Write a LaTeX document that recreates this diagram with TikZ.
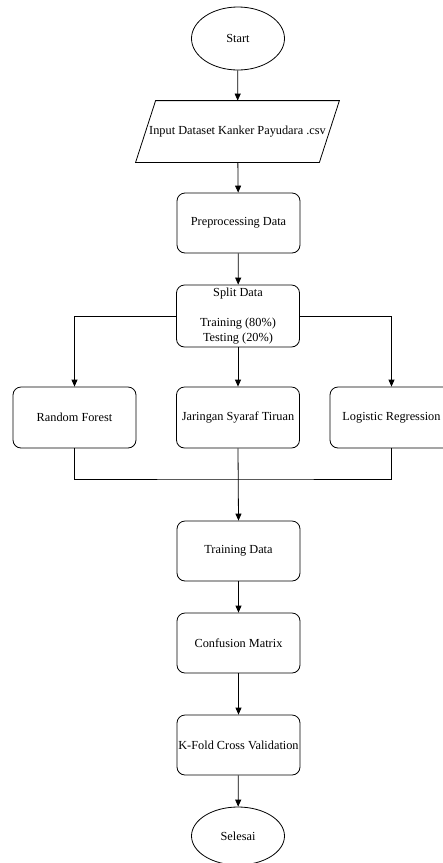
\documentclass[tikz,border=0pt]{standalone}
\usepackage{fontspec}
\setmainfont{Liberation Serif}
\usetikzlibrary{arrows.meta,shapes.geometric}

\begin{document}
\begin{tikzpicture}[x=1pt,y=-1pt,line width=0.8pt,
    font=\fontsize{12.3}{15}\selectfont,
    arr/.style={-{Triangle[length=7pt,width=6pt]}},
    proc/.style={draw,rounded corners=8pt,minimum width=123pt,minimum height=60pt,inner sep=1pt,align=center},
    term/.style={draw,ellipse,minimum width=93pt,minimum height=63pt,inner sep=0pt},
    io/.style={minimum width=183pt,minimum height=61pt,inner sep=0pt}]
          \useasboundingbox[fill=white] (0,0) rectangle (443,863);
          \node[term] (start) at (238,38.5) {Start};
          \node[io] (input) at (237.5,131.5) {Input Dataset Kanker Payudara .csv};
          \draw ([xshift=10pt]input.north west) -- ([xshift=10pt]input.north east)
            -- ([xshift=-10pt]input.south east) -- ([xshift=-10pt]input.south west) -- cycle;
          \node[proc] (prep) at (238.5,223) {Preprocessing Data};
          \node[proc,minimum height=62pt] (split) at (238,316) {Split Data\\[15pt]Training (80\%)\\Testing (20\%)};
          \node[proc,minimum height=61pt] (rf) at (74.5,417.5) {Random Forest};
          \node[proc,minimum height=61pt] (jst) at (238,417.5) {Jaringan Syaraf Tiruan};
          \node[proc,minimum height=61pt] (lr) at (391.5,417.5) {Logistic Regression};
          \coordinate (merge) at (238,479);
          \node[proc] (train) at (238.5,551) {Training Data};
          \node[proc] (cm) at (238.5,643) {Confusion Matrix};
          \node[proc] (kfold) at (238.5,745) {K-Fold Cross Validation};
          \node[term,minimum height=58pt] (end) at (238,836) {Selesai};
          \draw[arr] (start) -- (input);
          \draw[arr] (input) -- (prep);
          \draw[arr] (prep) -- (split);
          \draw[arr] (split) -- (jst);
          \draw[arr] (split.west) -| (rf.north);
          \draw[arr] (split.east) -| (lr.north);
          \draw (rf.south) |- (merge) -| (lr.south);
          \draw[arr] (jst.south) -- (train.north);
          \draw[arr] (train) -- (cm);
          \draw[arr] (cm) -- (kfold);
          \draw[arr] (kfold) -- (end);
        \end{tikzpicture}
\end{document}
